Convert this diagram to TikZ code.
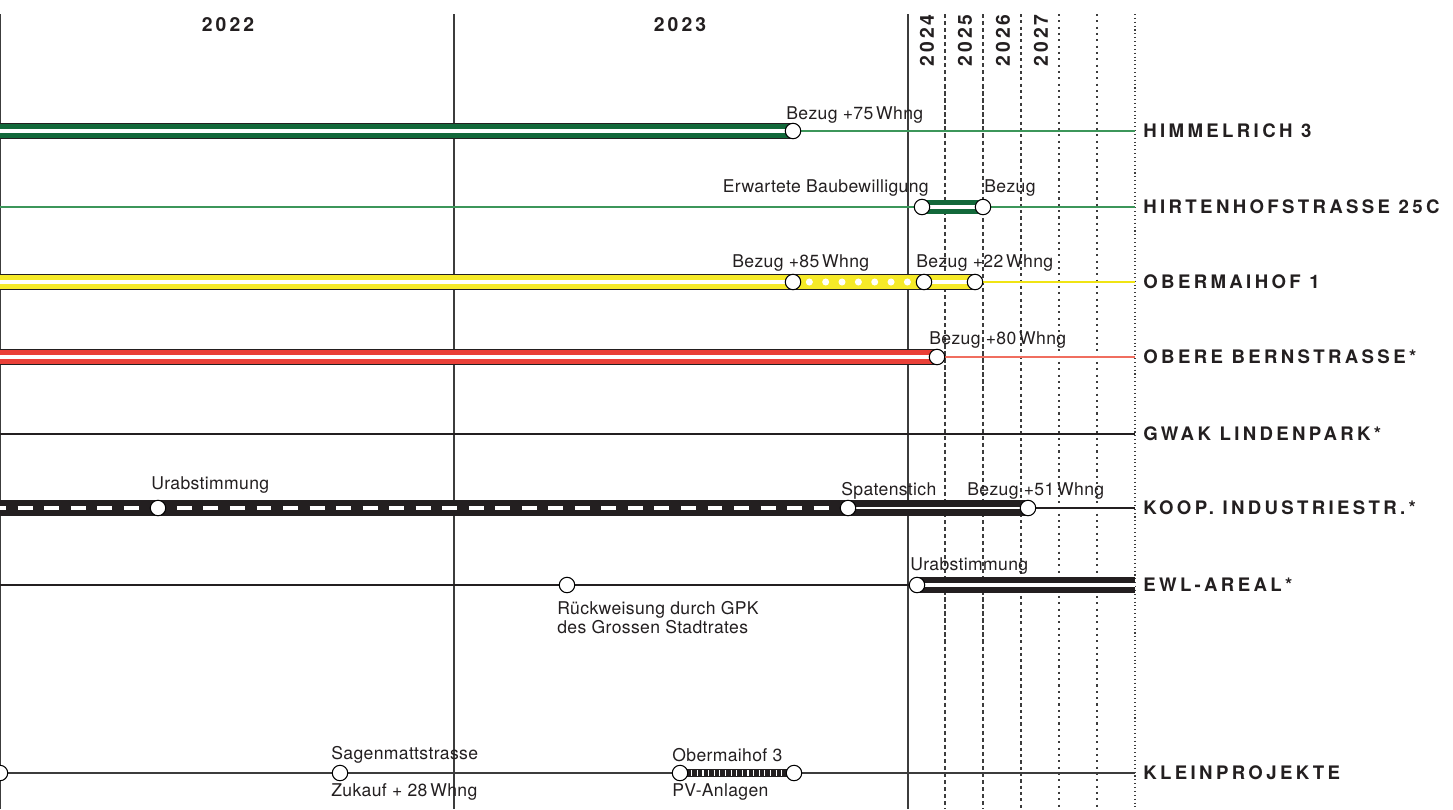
\documentclass[tikz,border=0pt]{standalone}
\usepackage{fontspec}
\setmainfont{TeX Gyre Heros}
\newfontfamily\rowfont[LetterSpace=18]{TeX Gyre Heros}
\newfontfamily\yearfont[LetterSpace=16]{TeX Gyre Heros}
\newfontfamily\notefont[LetterSpace=2]{TeX Gyre Heros}
\usepackage{tikz}
\usetikzlibrary{backgrounds}
\usepackage{xcolor}
\definecolor{barline}{RGB}{35,31,32}
\definecolor{himgreen}{RGB}{18,104,58}
\definecolor{thingreen}{RGB}{60,150,90}
\definecolor{obyellow}{RGB}{246,234,40}
\definecolor{thinyellow}{RGB}{240,228,20}
\definecolor{bernred}{RGB}{234,64,56}
\definecolor{thinred}{RGB}{240,110,95}
\definecolor{gridgray}{RGB}{60,60,60}

\begin{document}
\begin{tikzpicture}[x=0.02cm, y=-0.02cm,
    ms/.style={circle, draw=black, fill=white, line width=0.6pt,
      minimum size=8.8pt, inner sep=0pt},
    note/.style={font=\notefont\fontsize{10}{10.8}\selectfont,
      text=barline, inner sep=0pt, anchor=west},
    proj/.style={font=\rowfont\fontsize{10.6}{12}\selectfont\bfseries,
      text=barline, inner sep=0pt, anchor=west},
    yr/.style={font=\yearfont\fontsize{11}{12}\selectfont\bfseries,
      text=barline, inner sep=0pt},
    grid/.style={line width=0.6pt, draw=gridgray},
    thin/.style={line width=0.6pt},
    gbar/.style={draw=barline, line width=9.2pt,
      postaction={draw=himgreen, line width=7.8pt},
      postaction={draw=white, line width=1.9pt}},
    ybar/.style={draw=barline, line width=9pt,
      postaction={draw=obyellow, line width=7.6pt},
      postaction={draw=white, line width=1.8pt}},
    ydots/.style={draw=barline, line width=9pt,
      postaction={draw=obyellow, line width=7.6pt},
      postaction={draw=white, line width=4pt, line cap=round,
        dash pattern=on 0pt off 9.3pt}},
    rbar/.style={draw=barline, line width=9pt,
      postaction={draw=bernred, line width=7.6pt},
      postaction={draw=white, line width=1.8pt}},
    kdash/.style={draw=barline, line width=9pt,
      postaction={draw=white, line width=2pt,
        dash pattern=on 8.5pt off 6.6pt, dash phase=5pt}},
    kbar/.style={draw=barline, line width=9pt,
      postaction={draw=white, line width=1pt}},
    ebar/.style={draw=barline, line width=9.2pt,
      postaction={draw=white, line width=1.8pt}},
    hatch/.style={draw=barline, line width=5pt,
      postaction={draw=white, line width=3.2pt,
        dash pattern=on 0.6pt off 2.6pt}},
  ]
  \useasboundingbox (0,0) rectangle (1453,809);

  % years
  \node[yr] (y22) at (228,25) {2022};
  \node[yr] (y23) at (680,25) {2023};
  \node[yr, rotate=90, anchor=east] (y24) at (927,14) {2024};
  \node[yr, rotate=90, anchor=east] (y25) at (965,14) {2025};
  \node[yr, rotate=90, anchor=east] (y26) at (1003,14) {2026};
  \node[yr, rotate=90, anchor=east] (y27) at (1041,14) {2027};

  % projects (right column)
  \node[proj] (him) at (1143,131) {HIMMELRICH 3};
  \node[proj] (hir) at (1143,207) {HIRTENHOFSTRASSE 25C};
  \node[proj] (obm) at (1143,282) {OBERMAIHOF 1};
  \node[proj] (obb) at (1143,357) {OBERE BERNSTRASSE*};
  \node[proj] (gwak) at (1143,434) {GWAK LINDENPARK*};
  \node[proj] (koop) at (1143,508) {KOOP. INDUSTRIESTR.*};
  \node[proj] (ewl) at (1143,585) {EWL-AREAL*};
  \node[proj] (klein) at (1143,773) {KLEINPROJEKTE};

  % line ends
  \coordinate (himL) at (0,131);   \coordinate (himR) at (1135,131);
  \coordinate (hirL) at (0,207);   \coordinate (hirR) at (1135,207);
  \coordinate (obmL) at (0,282);   \coordinate (obmR) at (1135,282);
  \coordinate (obbL) at (0,357);   \coordinate (obbR) at (1135,357);
  \coordinate (gwakL) at (0,434);  \coordinate (gwakR) at (1135,434);
  \coordinate (koopL) at (0,508);  \coordinate (koopR) at (1135,508);
  \coordinate (ewlL) at (0,585);   \coordinate (ewlR) at (1135,585);
  \coordinate (kleinR) at (1135,773);

  % milestones
  \node[ms] (him1) at (793,131) {};
  \node[ms] (hir1) at (922,207) {};
  \node[ms] (hir2) at (983,207) {};
  \node[ms] (obm1) at (793,282) {};
  \node[ms] (obm2) at (924,282) {};
  \node[ms] (obm3) at (975,282) {};
  \node[ms] (obb1) at (937,357) {};
  \node[ms] (koop1) at (158,508) {};
  \node[ms] (koop2) at (848,508) {};
  \node[ms] (koop3) at (1028,508) {};
  \node[ms] (ewl0) at (567,585) {};
  \node[ms] (ewl1) at (917,585) {};
  \node[ms] (klein0) at (0,773) {};
  \node[ms] (klein1) at (340,773) {};
  \node[ms] (klein2) at (680,773) {};
  \node[ms] (klein3) at (794,773) {};

  % milestone texts
  \node[note] (him1t) at (786,115) {Bezug +75\,Whng};
  \node[note, anchor=east] (hir1t) at (929,188) {Erwartete Baubewilligung};
  \node[note] (hir2t) at (984,188) {Bezug};
  \node[note] (obm1t) at (732,263) {Bezug +85\,Whng};
  \node[note] (obm2t) at (916,263) {Bezug +22\,Whng};
  \node[note] (obb1t) at (929,340) {Bezug +80\,Whng};
  \node[note] (koop1t) at (151,485) {Urabstimmung};
  \node[note] (koop2t) at (841,491) {Spatenstich};
  \node[note] (koop3t) at (967,491) {Bezug +51\,Whng};
  \node[note] (ewl1t) at (910,566) {Urabstimmung};
  \node[note, anchor=north west, align=left] (ewl0t) at (557,601)
    {Rückweisung durch GPK\\des Grossen Stadtrates};
  \node[note] (klein1t) at (331,755) {Sagenmattstrasse};
  \node[note] (klein1b) at (331,792) {Zukauf + 28\,Whng};
  \node[note] (klein2t) at (672,755) {Obermaihof 3};
  \node[note] (klein2b) at (672,792) {PV-Anlagen};

  \begin{scope}[on background layer]
    % time grid
    \draw[grid] (0.5,14) -- (0.5,809);
    \draw[grid] (454,14) -- (454,809);
    \draw[grid] (908,14) -- (908,809);
    \draw[grid, dash pattern=on 2.4pt off 1.6pt] (945,14) -- (945,809);
    \draw[grid, dash pattern=on 2.4pt off 1.6pt] (983,14) -- (983,809);
    \draw[grid, dash pattern=on 1.8pt off 1.8pt] (1021,14) -- (1021,809);
    \draw[grid, dash pattern=on 1.2pt off 2.4pt] (1059,14) -- (1059,809);
    \draw[grid, dash pattern=on 1.2pt off 2.4pt] (1097,14) -- (1097,809);
    \draw[grid, dash pattern=on 0.6pt off 1.6pt] (1135,14) -- (1135,809);

    % thin lines
    \draw[thin, thingreen] (him1) -- (himR);
    \draw[thin, thingreen] (hirL) -- (hirR);
    \draw[thin, thinyellow] (obm3) -- (obmR);
    \draw[thin, thinred] (obb1) -- (obbR);
    \draw[thin, barline] (gwakL) -- (gwakR);
    \draw[thin, barline] (koop3) -- (koopR);
    \draw[thin, barline] (ewlL) -- (ewl1);
    \draw[thin, gridgray] (klein0) -- (kleinR);

    % bars
    \draw[gbar] (himL) -- (him1.center);
    \draw[gbar, line width=8.2pt] (hir1.center) -- (hir2.center);
    \draw[ybar] (obmL) -- (obm1.center);
    \draw[ydots] (obm1.center) -- (obm2.center);
    \draw[ybar] (obm2.center) -- (obm3.center);
    \draw[rbar] (obbL) -- (obb1.center);
    \draw[kdash] (koopL) -- (koop2.center);
    \draw[kbar] (koop2.center) -- (koop3.center);
    \draw[ebar] (ewl1.center) -- (ewlR);
    \draw[hatch] (klein2.center) -- (klein3.center);
  \end{scope}
\end{tikzpicture}
\end{document}
